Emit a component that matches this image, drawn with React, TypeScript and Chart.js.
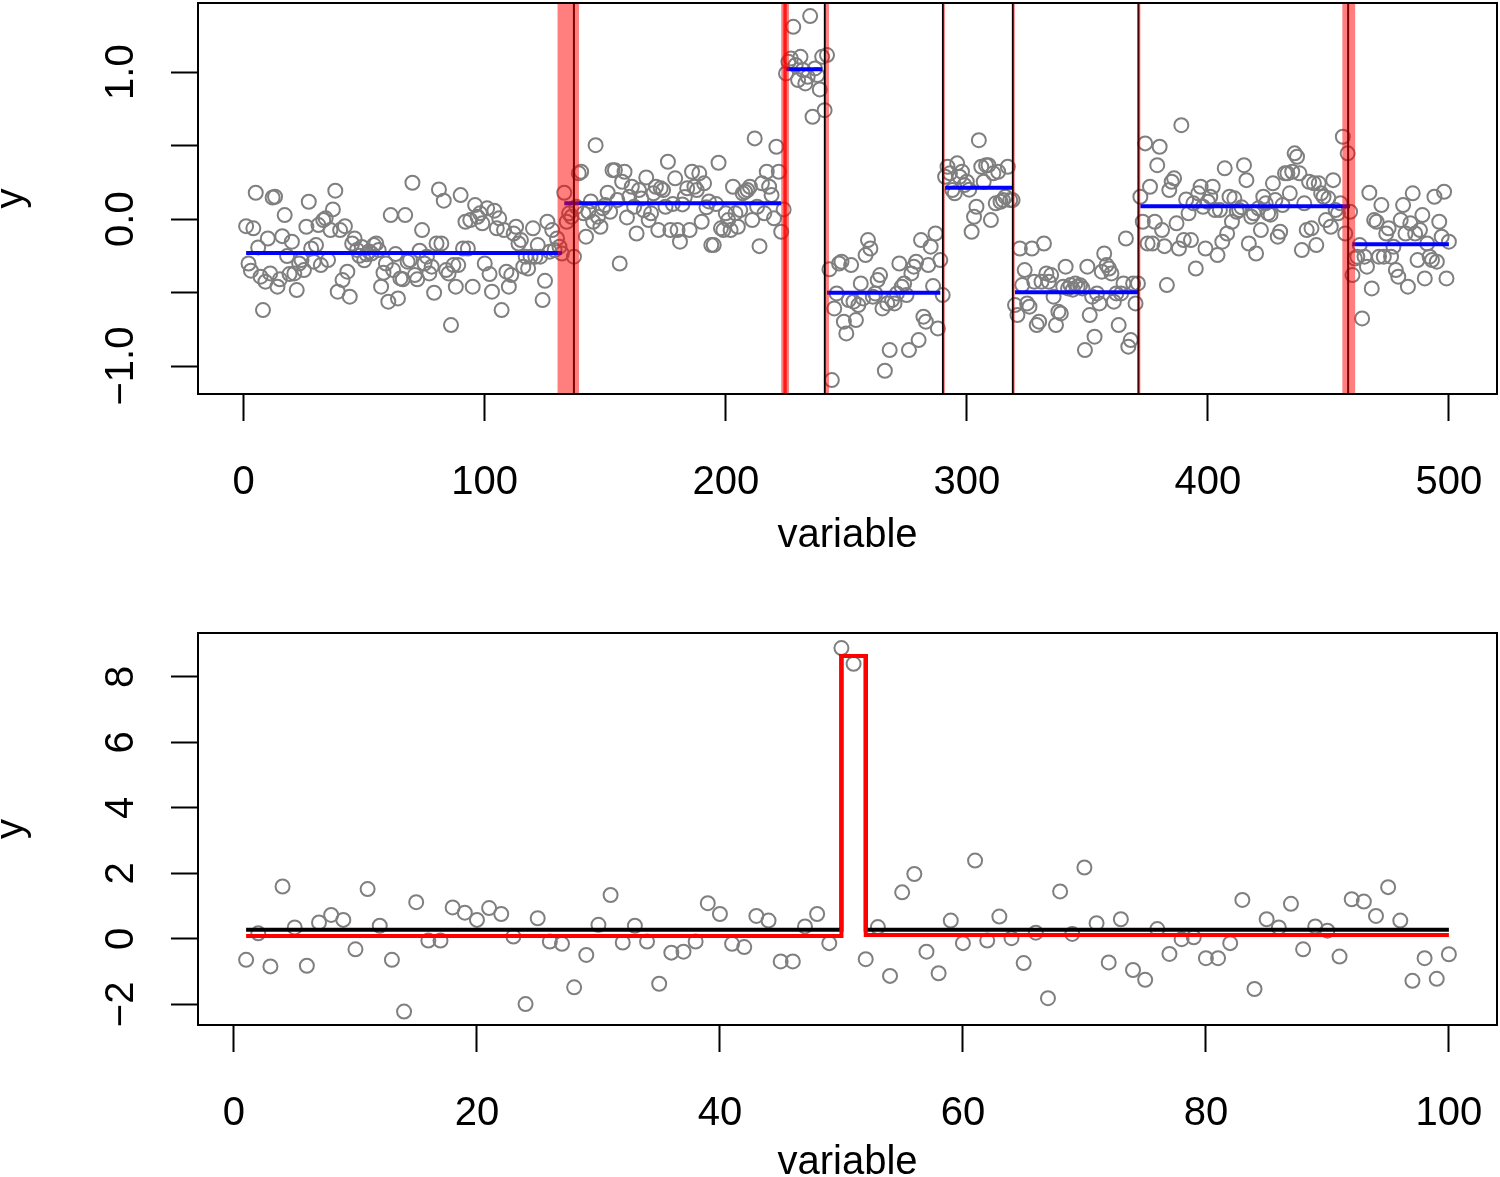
import React, { useEffect, useRef } from 'react';
import { Chart, registerables } from 'chart.js';

Chart.register(...registerables);

const FONT = "'Liberation Sans', Arial, Helvetica, sans-serif";
const FS = 40;
const GRAY = '#7f7f7f';

// ---------------- Top panel data ----------------
const seg1Y = [
  -0.048, -0.302, -0.351, -0.063, 0.179, -0.193, -0.392, -0.619, -0.426, -0.132,
  -0.370, 0.147, 0.152, -0.460, -0.410, -0.116, 0.027, -0.252, -0.374, -0.154,
  -0.370, -0.483, -0.302, -0.279, -0.347, -0.052, 0.118, -0.200, -0.290, -0.177,
  -0.041, -0.313, -0.007, 0.005, -0.279, -0.075, 0.066, 0.193, -0.494, -0.075,
  -0.415, -0.048, -0.358, -0.528, -0.166, -0.132, -0.21, -0.25, -0.19, -0.28,
  -0.24, -0.22, -0.234, -0.177, -0.166, -0.211, -0.460, -0.365, -0.302, -0.562,
  0.027, -0.347, -0.238, -0.540, -0.404, -0.410, 0.027, -0.290, -0.279, 0.247,
  -0.381, -0.410, -0.215, -0.075, -0.302, -0.256, -0.370, -0.324, -0.501, -0.166,
  0.202, -0.166, 0.125, -0.347, -0.370, -0.721, -0.313, -0.460, -0.313, 0.163,
  -0.200, -0.018,
  -0.200, -0.007, -0.460, 0.095, 0.016, 0.039, -0.029, -0.302, 0.073, -0.374,
  -0.494, 0.057, -0.063, 0.005, -0.619, -0.075, -0.358, -0.460, -0.381, -0.098,
  -0.052, -0.166, -0.143, -0.324, -0.256, -0.336, -0.256, -0.063, -0.256, -0.177,
  -0.256, -0.551, -0.420, -0.018, -0.222, -0.075, -0.211, -0.132, -0.188, -0.234,
];
const seg2Y = [
  0.179, -0.018, 0.039, 0.016, -0.256, 0.084, 0.311, 0.322, 0.039, -0.120,
  0.05, 0.12,
  -0.018, 0.503, 0.016, -0.052, 0.073, 0.095, 0.179, 0.050, 0.333, 0.333,
  0.129, -0.302, 0.254, 0.322, 0.011, 0.152, 0.220, 0.084, -0.098, 0.197,
  0.14, 0.06,
  0.283, -0.007, 0.039, 0.175, 0.220, -0.075, 0.209, 0.197, 0.084, 0.390,
  -0.075, 0.102, 0.277, -0.075, -0.154,
  0.10, 0.15,
  0.209, -0.075, 0.322, 0.220, 0.197, 0.311, -0.018, 0.243,
  0.08, 0.12,
  -0.177, -0.177, 0.102, 0.383, -0.063,
  -0.075, 0.039, -0.007, -0.075, 0.220, 0.039, -0.052, 0.061, 0.175, 0.186,
  0.197, 0.220, -0.007, 0.549, 0.084, -0.184, 0.243, 0.039, 0.322, 0.220,
  0.163, 0.005, 0.492, 0.322, -0.086, 0.066,
];
const seg3Y = [
  0.991, 1.070, 1.093, 1.308, 1.048, 0.946, 1.104, 1.014, 0.923, 0.968,
  1.381, 0.696, 1.025, 0.980, 0.882, 1.104, 0.741, 1.116,
];
const seg4Y = [
  -0.342, -1.095, -0.608, -0.506, -0.302, -0.290, -0.698, -0.778, -0.551, -0.313,
  -0.562, -0.687, -0.585, -0.438, -0.540, -0.245, -0.143, -0.200, -0.528, -0.506,
  -0.415, -0.381, -0.608, -1.032, -0.574, -0.891, -0.551, -0.574, -0.506, -0.302,
  -0.460, -0.438, -0.517, -0.891, -0.370, -0.324, -0.290, -0.823, -0.143, -0.664,
  -0.698, -0.313, -0.188, -0.456, -0.098, -0.744, -0.279, -0.517,
];
const seg5Y = [
  0.288, 0.356, 0.311, 0.197, 0.175, 0.379, 0.288, 0.322, 0.231, 0.254,
  0.20, -0.086, 0.016, 0.084, 0.537, 0.356, 0.254, 0.367, 0.367, -0.007,
  0.311, 0.107, 0.322, 0.118, 0.129, 0.152, 0.356, 0.129, 0.129,
];
const seg6Y = [
  -0.585, -0.653, -0.200, -0.449, -0.347, -0.574, -0.596, -0.200, -0.426, -0.721,
  -0.698, -0.426, -0.166, -0.370, -0.426, -0.381, -0.528, -0.721, -0.630, -0.642,
  -0.460, -0.324, -0.472, -0.449, -0.48, -0.438, -0.460, -0.45, -0.472, -0.891,
  -0.324, -0.653, -0.528, -0.800, -0.506, -0.574, -0.358, -0.234, -0.313, -0.336,
  -0.370, -0.562, -0.506, -0.721, -0.506, -0.438, -0.132, -0.868, -0.823, -0.438,
  -0.574, -0.438,
];
const seg7Y = [
  0.152, -0.018, 0.515, -0.166, 0.220, -0.166, -0.018, 0.367, 0.492, -0.075,
  -0.184, -0.449, 0.197, 0.254, 0.277, -0.029, -0.200, 0.639, -0.143, 0.134,
  0.039, -0.143, 0.107, -0.336, 0.175, 0.220, 0.084, -0.200, 0.118,
  0.152, 0.220, 0.061, -0.245, 0.061, -0.154, 0.345, -0.098, 0.152, -0.018,
  0.141, 0.050, 0.061, 0.08, 0.367, 0.265, -0.166, 0.016, 0.039, -0.234,
  0.073, -0.075, 0.152, 0.107, 0.039, 0.03, 0.243, 0.129, -0.120, -0.086,
  0.095, 0.311, 0.311, 0.175, 0.322, 0.447, 0.424, 0.311, -0.211, 0.107,
  -0.075, 0.254, -0.063, 0.243, -0.177, 0.243, 0.175, 0.152, -0.007, 0.141,
  -0.052, 0.265, 0.061, 0.039, 0.107, 0.560, -0.098, 0.447, 0.050,
];
const seg8Y = [
  -0.381, -0.268, -0.256, -0.177, -0.676, -0.256, -0.324, 0.179, -0.472, -0.007,
  -0.018, -0.256, 0.095, -0.256, -0.098, -0.063, -0.256, -0.188, -0.347, -0.392,
  -0.007, 0.095, -0.098, -0.460, -0.029, 0.175, -0.098, -0.279, -0.075, 0.027,
  -0.404, -0.166, -0.256, -0.279, 0.152, -0.290, -0.018, -0.120, 0.186, -0.404,
  -0.154,
];
const topY = [...seg1Y, ...seg2Y, ...seg3Y, ...seg4Y, ...seg5Y, ...seg6Y, ...seg7Y, ...seg8Y];

// fitted segment means (blue)
const segStart = [1, 133, 225, 242, 291, 320, 372, 460];
const segEnd = [132, 223, 240, 289, 319, 371, 459, 500];
const segMean = [-0.231, 0.107, 1.02, -0.501, 0.213, -0.497, 0.088, -0.172];

// change point lines (black) and uncertainty bands (red)
const cpLines = [137.0, 241.1, 290.1, 319.1, 371.2, 458.2];
const bandStart = [130.2, 223.0, 223.9, 241.3, 290.1, 319.1, 371.2, 455.8];
const bandEnd = [139.1, 226.2, 225.3, 242.8, 290.9, 319.9, 372.0, 461.1];
const bandAlpha = [0.5, 0.5, 0.8, 0.5, 0.5, 0.5, 0.5, 0.5];

const topXTicks = [0, 100, 200, 300, 400, 500];
const topXLabels = ['0', '100', '200', '300', '400', '500'];
const topYTicks = [-1, -0.5, 0, 0.5, 1];
const topYLabels = ['\u22121.0', '', '0.0', '', '1.0'];
const topXRange = [-18.96, 519.96];
const topYRange = [-1.19, 1.47];

// ---------------- Bottom panel data ----------------
const bottomY = [
  -0.64, 0.17, -0.84, 1.60, 0.35, -0.82, 0.50, 0.73, 0.58, -0.32,
  1.52, 0.40, -0.64, -2.22, 1.12, -0.05, -0.05, 0.96, 0.80, 0.58,
  0.94, 0.76, 0.07, -1.99, 0.63, -0.08, -0.15, -1.48, -0.49, 0.43,
  1.34, -0.11, 0.40, -0.08, -1.37, -0.42, -0.39, -0.08, 1.09, 0.76,
  -0.15, -0.25, 0.70, 0.56, -0.69, -0.69, 0.38, 0.76, -0.13, 8.88,
  8.40, -0.62, 0.36, -1.13, 1.42, 1.98, -0.39, -1.05, 0.56, -0.13,
  2.39, -0.05, 0.68, 0.02, -0.74, 0.19, -1.81, 1.45, 0.15, 2.18,
  0.48, -0.72, 0.60, -0.95, -1.25, 0.30, -0.46, -0.01, 0.05, -0.59,
  -0.59, -0.13, 1.19, -1.53, 0.60, 0.35, 1.07, -0.32, 0.38, 0.25,
  -0.54, 1.21, 1.14, 0.70, 1.58, 0.56, -1.28, -0.59, -1.22, -0.47,
];
const stepX = [1, 50, 52, 100];
const blackStepY = [0.275, 8.64, 0.275, 0.275];
const redStepY = [0.09, 8.64, 0.12, 0.12];

const bottomXTicks = [0, 20, 40, 60, 80, 100];
const bottomXLabels = ['0', '20', '40', '60', '80', '100'];
const bottomYTicks = [-2, 0, 2, 4, 6, 8];
const bottomYLabels = ['\u22122', '0', '2', '4', '6', '8'];
const bottomXRange = [-2.96, 103.96];
const bottomYRange = [-2.63, 9.34];

// ---------------- helpers ----------------
const font = { family: FONT, size: FS };
const TICK_LEN = 27;
const PLOT_LEFT = 198;
const YLABEL_CENTER = 122;

function measureWidest(labels: string[]) {
  const c = document.createElement('canvas').getContext('2d')!;
  c.font = `${FS}px ${FONT}`;
  return Math.max(...labels.map((l) => c.measureText(l).width));
}

const gridOpts = {
  display: true,
  drawOnChartArea: false,
  drawTicks: true,
  tickLength: TICK_LEN,
  tickWidth: 2,
  tickColor: '#000',
};

function zeroPad(s: any) {
  s.paddingTop = 0;
  s.paddingBottom = 0;
  s.paddingLeft = 0;
  s.paddingRight = 0;
}

function xAxis(range: number[], ticks: number[], labels: string[], height: number, titlePad: number) {
  return {
    type: 'linear',
    position: 'bottom',
    min: range[0],
    max: range[1],
    afterBuildTicks: (s: any) => {
      s.ticks = ticks.map((v) => ({ value: v }));
    },
    afterFit: (s: any) => {
      s.height = height;
      zeroPad(s);
    },
    grid: gridOpts,
    border: { display: false },
    ticks: {
      callback: (_v: any, i: number) => labels[i],
      autoSkip: false,
      minRotation: 0,
      maxRotation: 0,
      padding: 38,
      font,
      color: '#000',
    },
    title: {
      display: true,
      text: 'variable',
      font,
      color: '#000',
      padding: { top: 0, bottom: titlePad },
    },
  };
}

function yAxis(range: number[], ticks: number[], labels: string[]) {
  const widest = measureWidest(labels);
  return {
    type: 'linear',
    position: 'left',
    min: range[0],
    max: range[1],
    afterBuildTicks: (s: any) => {
      s.ticks = ticks.map((v) => ({ value: v }));
    },
    afterFit: (s: any) => {
      s.width = PLOT_LEFT;
      zeroPad(s);
    },
    grid: gridOpts,
    border: { display: false },
    ticks: {
      callback: (_v: any, i: number) => labels[i],
      autoSkip: false,
      minRotation: 90,
      maxRotation: 90,
      crossAlign: 'center',
      padding: PLOT_LEFT - TICK_LEN - YLABEL_CENTER - widest / 2,
      font,
      color: '#000',
    },
    title: {
      display: true,
      text: 'y',
      font,
      color: '#000',
      padding: { top: -12, bottom: 0 },
    },
  };
}

const boxPlugin = {
  id: 'rbox',
  afterDatasetsDraw(chart: any, _args: any, opts: any) {
    const { ctx, chartArea: a } = chart;
    const xs = chart.scales.x;
    ctx.save();
    ctx.beginPath();
    ctx.rect(a.left, a.top, a.right - a.left, a.bottom - a.top);
    ctx.clip();
    const bs: number[] = (opts && opts.starts) || [];
    bs.forEach((s: number, k: number) => {
      const x1 = xs.getPixelForValue(s);
      const x2 = xs.getPixelForValue(opts.ends[k]);
      ctx.fillStyle = `rgba(255,0,0,${opts.alphas[k]})`;
      ctx.fillRect(x1, a.top, x2 - x1, a.bottom - a.top);
    });
    ctx.restore();
    ctx.save();
    ctx.strokeStyle = '#000';
    ctx.lineWidth = 2;
    ctx.strokeRect(a.left, a.top, a.right - a.left, a.bottom - a.top);
    ctx.restore();
  },
};

function pointsDataset(ys: number[]) {
  return {
    type: 'scatter',
    data: ys.map((y, i) => ({ x: i + 1, y })),
    pointRadius: 7,
    pointBorderWidth: 2,
    pointBorderColor: GRAY,
    pointBackgroundColor: 'rgba(0,0,0,0)',
    borderColor: GRAY,
    backgroundColor: 'rgba(0,0,0,0)',
    showLine: false,
    order: 10,
  };
}

function baseOptions(padTop: number) {
  return {
    responsive: false,
    animation: false,
    events: [],
    layout: { autoPadding: false, padding: { left: 0, right: 3, top: padTop, bottom: 0 } },
  };
}

function topConfig(): any {
  const datasets: any[] = [pointsDataset(topY)];
  segStart.forEach((s, k) => {
    datasets.push({
      type: 'line',
      data: [
        { x: s, y: segMean[k] },
        { x: segEnd[k], y: segMean[k] },
      ],
      borderColor: '#0000ff',
      borderWidth: 4,
      pointRadius: 0,
      borderCapStyle: 'butt',
      order: 5,
    });
  });
  cpLines.forEach((x) => {
    datasets.push({
      type: 'line',
      data: [
        { x, y: -10 },
        { x, y: 10 },
      ],
      borderColor: '#000',
      borderWidth: 2,
      pointRadius: 0,
      order: 4,
    });
  });
  return {
    type: 'scatter',
    data: { datasets },
    options: {
      ...baseOptions(3),
      plugins: {
        legend: { display: false },
        tooltip: { enabled: false },
        rbox: { starts: bandStart, ends: bandEnd, alphas: bandAlpha },
      },
      scales: {
        x: xAxis(topXRange, topXTicks, topXLabels, 194, 28),
        y: yAxis(topYRange, topYTicks, topYLabels),
      },
    },
    plugins: [boxPlugin],
  };
}

function bottomConfig(): any {
  const datasets: any[] = [
    {
      type: 'line',
      data: stepX.map((x, i) => ({ x, y: redStepY[i] })),
      stepped: 'before',
      borderColor: '#ff0000',
      borderWidth: 4,
      pointRadius: 0,
      order: 1,
    },
    {
      type: 'line',
      data: stepX.map((x, i) => ({ x, y: blackStepY[i] })),
      stepped: 'before',
      borderColor: '#000000',
      borderWidth: 4,
      pointRadius: 0,
      order: 2,
    },
    pointsDataset(bottomY),
  ];
  return {
    type: 'scatter',
    data: { datasets },
    options: {
      ...baseOptions(45),
      plugins: {
        legend: { display: false },
        tooltip: { enabled: false },
        rbox: { starts: [], ends: [], alphas: [] },
      },
      scales: {
        x: xAxis(bottomXRange, bottomXTicks, bottomXLabels, 152, -10),
        y: yAxis(bottomYRange, bottomYTicks, bottomYLabels),
      },
    },
    plugins: [boxPlugin],
  };
}

function ChartCanvas({ width, height, top, make }: { width: number; height: number; top: number; make: () => any }) {
  const ref = useRef<HTMLCanvasElement | null>(null);
  useEffect(() => {
    if (!ref.current) return;
    const chart = new Chart(ref.current, make());
    return () => chart.destroy();
  }, []);
  return (
    <canvas
      ref={ref}
      width={width}
      height={height}
      style={{ position: 'absolute', left: 0, top, width, height, display: 'block' }}
    />
  );
}

export default function App() {
  return (
    <div style={{ position: 'absolute', left: 0, top: 0, width: 1500, height: 1177, background: '#fff', overflow: 'hidden' }}>
      <ChartCanvas width={1500} height={588} top={0} make={topConfig} />
      <ChartCanvas width={1500} height={589} top={588} make={bottomConfig} />
    </div>
  );
}
